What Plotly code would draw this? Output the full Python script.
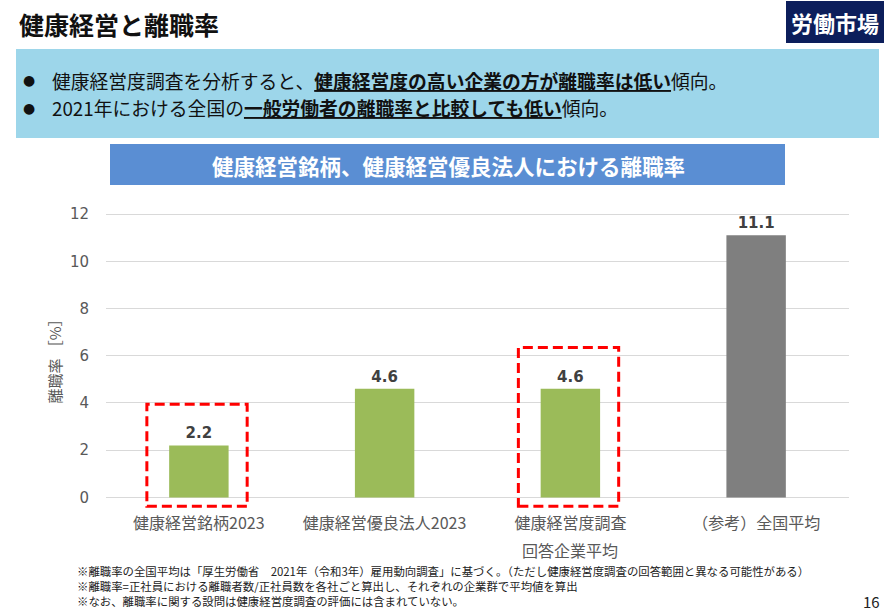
import plotly.graph_objects as go

# --- data ---
categories = ["健康経営銘柄2023", "健康経営優良法人2023", "健康経営度調査", "（参考）全国平均"]
sub_labels = ["", "", "回答企業平均", ""]
rates = [2.2, 4.6, 4.6, 11.1]
highlighted = [0, 2]          # bars framed by the red dashed boxes
y_ticks = [0, 2, 4, 6, 8, 10, 12]

title = "健康経営と離職率"
tag = "労働市場"
bullets = [
	"健康経営度調査を分析すると、<b><u>健康経営度の高い企業の方が離職率は低い</u></b>傾向。",
	"2021年における全国の<b><u>一般労働者の離職率と比較しても低い</u></b>傾向。",
]
chart_header = "健康経営銘柄、健康経営優良法人における離職率"
y_title = "離職率 ［%］"
notes = [
	"※離職率の全国平均は「厚生労働省　2021年（令和3年）雇用動向調査」に基づく。（ただし健康経営度調査の回答範囲と異なる可能性がある）",
	"※離職率=正社員における離職者数/正社員数を各社ごと算出し、それぞれの企業群で平均値を算出",
	"※なお、離職率に関する設問は健康経営度調査の評価には含まれていない。",
]
page_no = "16"

# --- styling ---
bar_colors = ["#9BBB59", "#9BBB59", "#9BBB59", "#7F7F7F"]
JP = "Noto Sans CJK JP"
W, H = 890, 614
L, R, T, B = 106, 41, 207, 106
PW, PH = W - L - R, H - T - B

def px(x):
	return (x - L) / PW

def py(y):
	return (T + PH - y) / PH

fig = go.Figure(go.Bar(
	x=categories, y=rates,
	marker=dict(color=bar_colors, line=dict(width=0)),
	text=[f"{v:.1f}" for v in rates],
	textposition="outside",
	textfont=dict(family="DejaVu Sans", size=15, color="#404040", weight="bold"),
	cliponaxis=False,
	hoverinfo="skip",
))

shapes = []
ann = []

# red dashed frames around highlighted bars
for i in highlighted:
	shapes.append(dict(type="rect", xref="x", yref="y",
		x0=i - 0.28, x1=i + 0.26, y0=-0.38, y1=rates[i] + 1.75,
		line=dict(color="#FF0000", width=3, dash="10px,5px"), layer="above"))

# second line under some categories
for i, s in enumerate(sub_labels):
	if s:
		ann.append(dict(x=categories[i], y=py(550), xref="x", yref="paper", text=s,
			font=dict(family=JP, size=16, color="#595959")))

# page decoration
shapes += [
	dict(type="rect", xref="paper", yref="paper", x0=px(786), x1=px(884), y0=py(43), y1=py(1),
		fillcolor="#0C1E5B", line=dict(width=0), layer="below"),
	dict(type="rect", xref="paper", yref="paper", x0=px(16), x1=px(879), y0=py(138), y1=py(49),
		fillcolor="#9DD6EA", line=dict(width=0), layer="below"),
	dict(type="rect", xref="paper", yref="paper", x0=px(110), x1=px(785), y0=py(185), y1=py(144),
		fillcolor="#5A8ED3", line=dict(width=0), layer="below"),
]
ann += [
	dict(x=px(17), y=py(24), text=f"<b>{title}</b>", xanchor="left",
		font=dict(family=JP, size=25, color="#111111")),
	dict(x=px(835), y=py(22), text=f"<b>{tag}</b>",
		font=dict(family=JP, size=22, color="white")),
	dict(x=px(448), y=py(165), text=f"<b>{chart_header}</b>",
		font=dict(family=JP, size=21.5, color="white")),
	dict(x=px(871), y=py(601), text=page_no,
		font=dict(family=JP, size=15, color="#222222")),
]
for k, b in enumerate(bullets):
	yy = py(80 + 27.5 * k)
	ann.append(dict(x=px(29), y=yy, text="●", font=dict(family="DejaVu Sans", size=14, color="#111111")))
	ann.append(dict(x=px(50), y=yy, text=b, xanchor="left",
		font=dict(family=JP, size=18.8, color="#111111")))
for k, n in enumerate(notes):
	ann.append(dict(x=px(75), y=py(571 + 15 * k), text=n, xanchor="left",
		font=dict(family=JP, size=11.4, color="#222222")))

for a in ann:
	a.setdefault("xref", "paper")
	a.setdefault("yref", "paper")
	a.setdefault("xanchor", "center")
	a.setdefault("yanchor", "middle")
	a["showarrow"] = False

fig.update_layout(
	width=W, height=H,
	margin=dict(l=L, r=R, t=T, b=B),
	paper_bgcolor="white", plot_bgcolor="white",
	bargap=0.68,
	showlegend=False,
	shapes=shapes,
	annotations=ann,
	xaxis=dict(tickfont=dict(family=JP, size=16, color="#595959"),
		showline=False, ticks="", ticklabelstandoff=4),
	yaxis=dict(range=[-0.45, 12.3], tickvals=y_ticks, showgrid=True, gridcolor="#D9D9D9",
		gridwidth=1, zeroline=False, showline=False, ticks="",
		tickfont=dict(family="DejaVu Sans", size=15, color="#595959"), ticklabelstandoff=16,
		title=dict(text=y_title, font=dict(family=JP, size=15, color="#595959"), standoff=4)),
)

fig.write_html("out.html", config={"displayModeBar": False},
	post_script="document.body.style.margin='0';document.body.style.overflow='hidden';")
